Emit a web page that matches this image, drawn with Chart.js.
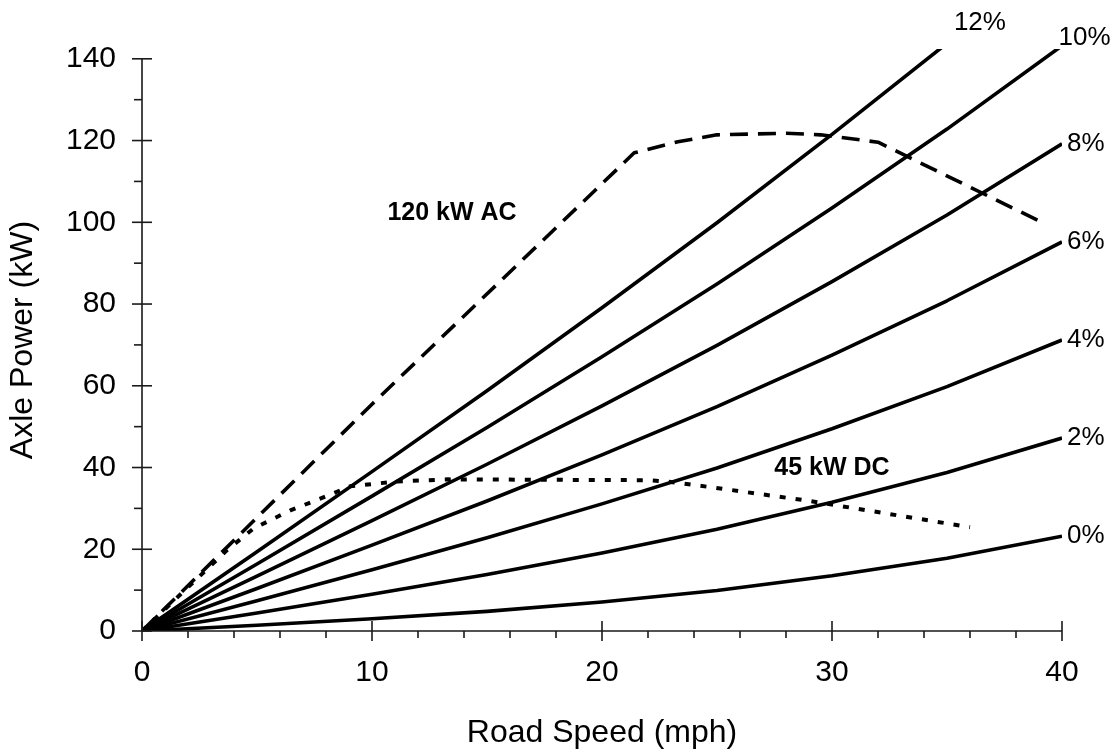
<!DOCTYPE html>
<html><head><meta charset="utf-8">
<script src="https://cdn.jsdelivr.net/npm/chart.js@4.4.0/dist/chart.umd.min.js"></script>
<style>html,body{margin:0;padding:0;background:#fff;} #wrap{width:1115px;height:752px;}</style>
</head><body><div id="wrap"><canvas id="c" width="1115" height="752"></canvas></div>
<script>
// ---- data ----
const speeds   = [0, 5, 10, 15, 20, 25, 30, 35, 40];
const grade0   = [0, 1.4, 3.0, 4.8, 7.1, 9.9, 13.5, 17.8, 23.2];
const grade2   = [0, 4.4, 9.0, 13.8, 19.1, 24.9, 31.5, 38.8, 47.2];
const grade4   = [0, 7.4, 15.0, 22.8, 31.1, 39.9, 49.5, 59.8, 71.2];
const grade6   = [0, 10.4, 21.0, 31.8, 43.1, 54.9, 67.5, 80.8, 95.2];
const grade8   = [0, 13.4, 27.0, 40.8, 55.1, 69.9, 85.5, 101.8, 119.2];
const grade10  = [0, 16.4, 33.0, 49.8, 67.1, 84.9, 103.5, 122.8, 143.2];
const grade12  = [0, 19.4, 39.0, 58.8, 79.1, 99.9, 121.5, 143.8];
const gradeNames = ['0%', '2%', '4%', '6%', '8%', '10%', '12%'];

const acSpeed = [0, 10, 21.4, 23.3, 25, 28, 29.5, 32, 39.2];
const acPower = [0, 55.5, 117, 119.7, 121.4, 121.8, 121.4, 119.6, 99.8];
const dcSpeed = [0, 3.7, 4.85, 6.45, 7.75, 9.05, 11.1, 13.3, 22, 22.8, 24.85, 29.05, 36];
const dcPower = [0, 19.8, 25.1, 29.5, 32.4, 35.4, 36.6, 37.1, 36.9, 36.6, 35.1, 31.8, 25.4];

const xTickValues = [0,2,4,6,8,10,12,14,16,18,20,22,24,26,28,30,32,34,36,38,40];
const yTickValues = [0,10,20,30,40,50,60,70,80,90,100,110,120,130,140];
const xMajor = [0, 10, 20, 30, 40];
const yMajor = [0, 20, 40, 60, 80, 100, 120, 140];

const xTitle = 'Road Speed (mph)';
const yTitle = 'Axle Power (kW)';
const acLabel = '120 kW AC';
const dcLabel = '45 kW DC';

// ---- build ----
const FONT = '"Liberation Sans", Arial, Helvetica, sans-serif';
const pts = (xs, ys) => ys.map((v, i) => ({x: xs[i], y: v}));
const grades = [grade0, grade2, grade4, grade6, grade8, grade10, grade12];

const datasets = grades.map((g, i) => ({
  label: gradeNames[i], data: pts(speeds, g),
  borderColor: '#000', borderWidth: 3.6, pointRadius: 0, tension: 0, clip: 0, fill: false
}));
datasets.push({label: acLabel, data: pts(acSpeed, acPower), borderColor: '#000', borderWidth: 3.6,
  borderDash: [18, 10], pointRadius: 0, tension: 0, clip: 0, fill: false});
datasets.push({label: dcLabel, data: pts(dcSpeed, dcPower), borderColor: '#000', borderWidth: 4,
  borderDash: [6, 10], pointRadius: 0, tension: 0, clip: 0, fill: false});

const decor = {
  id: 'decor',
  afterDatasetsDraw(chart) {
    const {ctx, scales: {x, y}} = chart;
    ctx.save();
    ctx.strokeStyle = '#1a1a1a';
    ctx.lineWidth = 1.6;
    const x0 = x.getPixelForValue(0), x1 = x.getPixelForValue(40);
    const y0 = y.getPixelForValue(0), y1 = y.getPixelForValue(140);
    ctx.beginPath();
    ctx.moveTo(x0, y1); ctx.lineTo(x0, y0); ctx.lineTo(x1, y0);
    ctx.stroke();
    x.ticks.forEach(t => {
      const px = x.getPixelForValue(t.value);
      const major = xMajor.includes(t.value);
      ctx.beginPath();
      ctx.moveTo(px, major ? y0 - 10 : y0);
      ctx.lineTo(px, major ? y0 + 10 : y0 + 7);
      ctx.stroke();
    });
    y.ticks.forEach(t => {
      const py = y.getPixelForValue(t.value);
      const major = yMajor.includes(t.value);
      ctx.beginPath();
      ctx.moveTo(major ? x0 - 10 : x0 - 8, py);
      ctx.lineTo(major ? x0 + 10 : x0, py);
      ctx.stroke();
    });
    // grade labels
    ctx.fillStyle = '#000';
    ctx.font = '26px ' + FONT;
    ctx.textAlign = 'left';
    ctx.textBaseline = 'middle';
    for (let i = 0; i <= 4; i++) {
      const g = grades[i];
      const px = x.getPixelForValue(speeds[g.length - 1]);
      const py = y.getPixelForValue(g[g.length - 1]);
      ctx.fillText(gradeNames[i], px + 5, py);
    }
    ctx.fillText(gradeNames[5], x.getPixelForValue(39.85), y.getPixelForValue(145.1));
    ctx.fillText(gradeNames[6], x.getPixelForValue(35.3), y.getPixelForValue(148.8));
    // curve annotations
    ctx.font = 'bold 25px ' + FONT;
    ctx.textAlign = 'center';
    ctx.fillText(acLabel, x.getPixelForValue(13.48), y.getPixelForValue(102.3));
    ctx.fillText(dcLabel, x.getPixelForValue(30.0), y.getPixelForValue(39.8));
    ctx.restore();
  }
};

new Chart(document.getElementById('c'), {
  type: 'line',
  data: {datasets},
  options: {
    responsive: false, animation: false, devicePixelRatio: 1,
    layout: {padding: {left: 0, right: 53, top: 49, bottom: 0}},
    plugins: {legend: {display: false}, tooltip: {enabled: false}},
    elements: {point: {radius: 0}, line: {borderCapStyle: 'butt', borderJoinStyle: 'round'}},
    scales: {
      x: {
        type: 'linear', min: 0, max: 40,
        afterBuildTicks: s => { s.ticks = xTickValues.map(v => ({value: v})); },
        afterFit: s => { s.height = 121; },
        ticks: {callback: v => xMajor.includes(v) ? String(v) : '', color: '#000',
          font: {family: FONT, size: 30}, padding: 14, maxRotation: 0, autoSkip: false},
        grid: {display: true, drawOnChartArea: false, drawTicks: true, tickLength: 10, color: 'rgba(0,0,0,0)'},
        border: {display: false},
        title: {display: true, text: xTitle, color: '#000', font: {family: FONT, size: 32}, padding: {top: 0, bottom: 0}}
      },
      y: {
        type: 'linear', min: 0, max: 142.4,
        afterBuildTicks: s => { s.ticks = yTickValues.map(v => ({value: v})); },
        afterFit: s => { s.width = 142; },
        ticks: {callback: v => yMajor.includes(v) ? String(v) : '', color: '#000',
          font: {family: FONT, size: 30}, padding: 16, autoSkip: false},
        grid: {display: true, drawOnChartArea: false, drawTicks: true, tickLength: 10, color: 'rgba(0,0,0,0)'},
        border: {display: false},
        title: {display: true, text: yTitle, color: '#000', font: {family: FONT, size: 32}, padding: {top: 4, bottom: 0}}
      }
    }
  },
  plugins: [decor]
});
</script>
</body></html>
